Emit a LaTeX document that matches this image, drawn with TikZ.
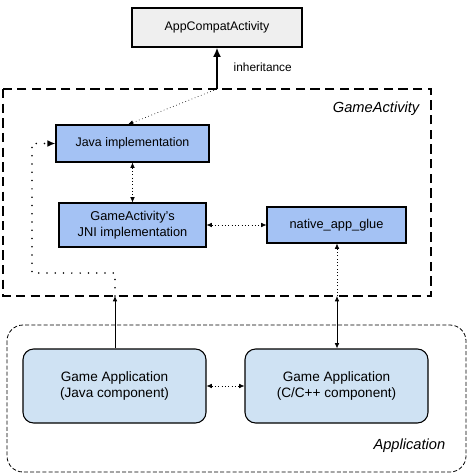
\documentclass[tikz,border=0pt]{standalone}
\usepackage{fontspec}
\setmainfont{Liberation Sans}
\usepackage{tikz}
\usetikzlibrary{arrows.meta}

\definecolor{boxgrey}{HTML}{EFEFEF}
\definecolor{boxblue}{HTML}{A4C2F4}
\definecolor{boxpale}{HTML}{CFE2F3}

\tikzset{
	classbox/.style={draw, line width=0.8pt, align=center, font=\fontsize{9.3}{11}\selectfont, inner sep=0pt},
	appbox/.style={draw, line width=0.8pt, rounded corners=8pt, fill=boxpale, align=center, font=\fontsize{10.2}{12.5}\selectfont, inner sep=0pt},
	dotlink/.style={dotted, line width=0.5pt, {Latex[length=4pt,width=3.5pt]}-{Latex[length=4pt,width=3.5pt]}},
}

\begin{document}
\begin{tikzpicture}[x=0.75pt, y=-0.75pt]
	\useasboundingbox (0,0) rectangle (472,474);

	% Draw the two groups
	%GameActivity
	\draw[dashed, line width=1.5pt, dash pattern=on 7pt off 4pt] (3,89) rectangle (431,296);
	\node[anchor=north east, font=\itshape\fontsize{11}{13}\selectfont] (gaLabel) at (424,97) {GameActivity};
	%Application
	\draw[dashed, line width=0.6pt, dash pattern=on 3pt off 1.6pt, rounded corners=12pt] (7,325) rectangle (466,472);
	\node[anchor=south east, font=\itshape\fontsize{11}{13}\selectfont] (appLabel) at (450,457) {Application};

	% Boxes
	\node[classbox, fill=boxgrey, minimum width=127.5pt, minimum height=29.25pt] (compat) at (217,27.5) {AppCompatActivity};
	\node[classbox, fill=boxblue, minimum width=114.75pt, minimum height=27.75pt] (java) at (132.5,143.5) {Java implementation};
	\node[classbox, fill=boxblue, minimum width=110.25pt, minimum height=33pt, font=\fontsize{9.6}{12}\selectfont] (jni) at (132.5,225) {GameActivity's\\JNI implementation};
	\node[classbox, fill=boxblue, minimum width=104.25pt, minimum height=27pt, font=\fontsize{9.6}{12}\selectfont] (glue) at (336.5,225) {native\_app\_glue};
	\node[appbox, minimum width=137.25pt, minimum height=55.5pt] (gameJava) at (114.5,386) {Game Application\\(Java component)};
	\node[appbox, minimum width=137.25pt, minimum height=55.5pt] (gameCpp) at (336.5,386) {Game Application\\(C/C++ component)};

	% Points on the GameActivity border
	\coordinate (gaTop) at (217,89);
	\coordinate (gaLeft) at (115,296);
	\coordinate (gaRight) at (337,296);

	%Inheritance
	\draw[line width=1.5pt, -{Latex[length=7pt,width=6pt]}] (gaTop) -- (compat.south);
	\node[anchor=west, font=\fontsize{8.9}{11}\selectfont] (inhLabel) at (229,67) {inheritance};
	\draw[dotted, line width=0.5pt, -{Latex[length=4pt,width=3.5pt]}] (gaTop) -- ([xshift=-3.4pt]java.north);

	%Links inside GameActivity
	\draw[dotlink] (java.south) -- (jni.north);
	\draw[dotlink] (jni.east) -- (glue.west);
	\draw[dotted, line width=0.5pt, -{Latex[length=4pt,width=3.5pt]}] (gaRight) -- (glue.south -| gaRight);

	%Links to the Application
	\draw[line width=0.6pt, {Latex[length=4pt,width=3.5pt]}-{Latex[length=4pt,width=3.5pt]}] (gaRight) -- (gameCpp.north -| gaRight);
	\draw[line width=0.6pt, -{Latex[length=4pt,width=3.5pt]}] (gameJava.north -| gaLeft) -- (gaLeft);
	\draw[line width=1.3pt, line cap=round, dash pattern=on 0pt off 6.2pt, -{Latex[length=6pt,width=5pt]}]
		(gaLeft) -- (115,273) -- (32,273) -- (32,143.5) -- (java.west);
	\draw[dotlink] (gameJava.east) -- (gameCpp.west);

\end{tikzpicture}
\end{document}
